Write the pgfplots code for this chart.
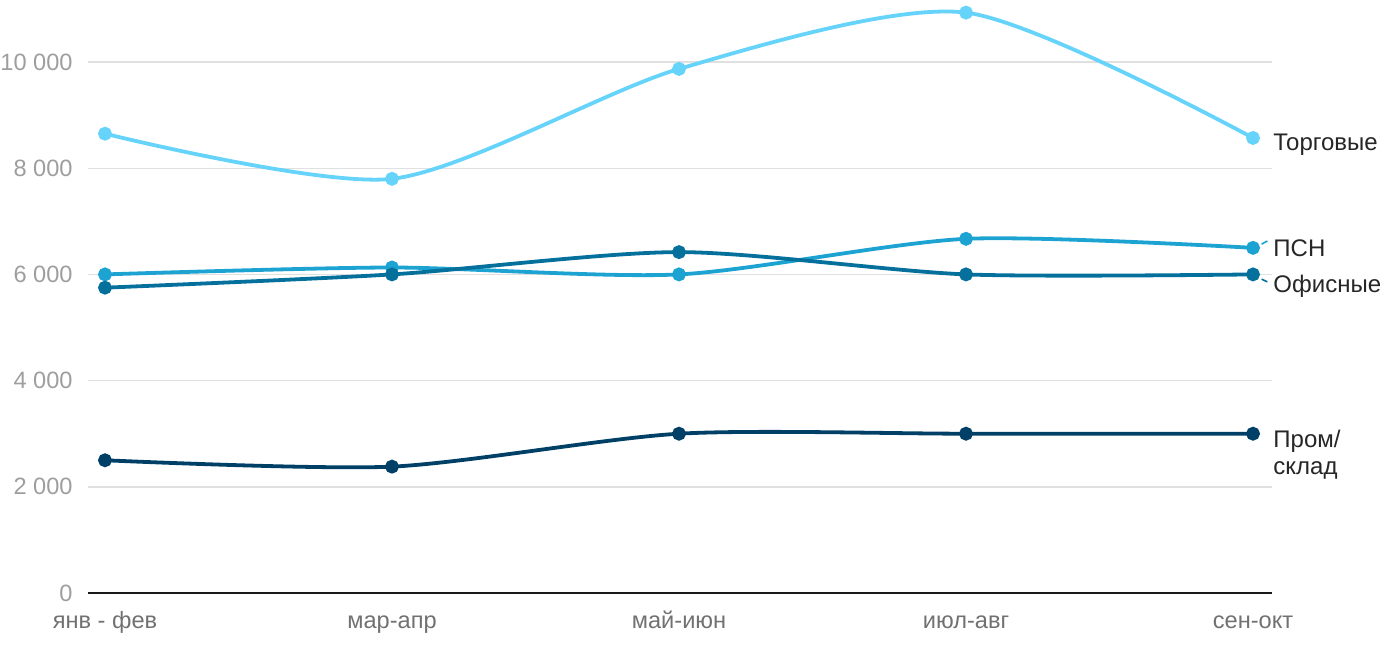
\documentclass[border=0pt]{standalone}
\usepackage{fontspec}
\setmainfont{Liberation Sans}
\usepackage{pgfplots}
\pgfplotsset{compat=1.18}
\definecolor{ctorg}{HTML}{66D3FA}
\definecolor{cpsn}{HTML}{1CA3D1}
\definecolor{coff}{HTML}{05709C}
\definecolor{cprom}{HTML}{003F66}
\definecolor{ygray}{HTML}{9E9E9E}
\definecolor{xgray}{HTML}{717171}
\definecolor{gridc}{HTML}{E0E0E0}
\begin{document}
\begin{tikzpicture}
\useasboundingbox (0,0) rectangle (700pt,325pt);
\begin{axis}[
  at={(44pt,28.5pt)}, anchor=south west,
  scale only axis, width=592pt, height=292.05pt,
  xmin=-0.0592, xmax=4.0662, ymin=0, ymax=11000,
  clip=false,
  axis line style={draw=none},
  major tick length=0pt,
  xtick={0,1,2,3,4},
  xticklabels={янв - фев,мар-апр,май-июн,июл-авг,сен-окт},
  ytick={0,2000,4000,6000,8000,10000},
  yticklabels={0,2 000,4 000,6 000,8 000,10 000},
  ymajorgrids, grid style={gridc, line width=0.7pt},
  extra y ticks={0}, extra y tick labels={},
  extra y tick style={grid style={black!90, line width=1.1pt}},
  yticklabel style={font=\fontsize{11.8}{14}\selectfont, text=ygray, inner sep=0pt, xshift=-7.5pt},
  xticklabel style={font=\fontsize{11.8}{14}\selectfont, text=xgray, inner sep=0pt, anchor=base, yshift=-17.5pt},
  every axis plot/.append style={smooth, tension=0.45, line width=1.9pt, mark=*, mark size=2.5pt},
]
\addplot[color=ctorg, mark options={fill=ctorg, draw=ctorg}] coordinates {(0,8650) (1,7800) (2,9870) (3,10930) (4,8570)};
\addplot[color=cpsn, mark options={fill=cpsn, draw=cpsn}] coordinates {(0,6000) (1,6130) (2,6000) (3,6670) (4,6500)};
\addplot[color=coff, mark options={fill=coff, draw=coff}] coordinates {(0,5750) (1,6000) (2,6420) (3,6000) (4,6000)};
\addplot[color=cprom, mark options={fill=cprom, draw=cprom}] coordinates {(0,2500) (1,2380) (2,3000) (3,3000) (4,3000)};

\draw[cpsn, line width=0.8pt] (axis cs:4.03,6570) -- (axis cs:4.05,6630);
\draw[coff, line width=0.8pt] (axis cs:4.03,5910) -- (axis cs:4.05,5860);
\node[anchor=west, inner sep=0pt, font=\fontsize{12}{14}\selectfont, text=black!85] at (axis cs:4,8570) [xshift=10pt, yshift=-3.5pt] {Торговые};
\node[anchor=west, inner sep=0pt, font=\fontsize{12}{14}\selectfont, text=black!85] at (axis cs:4,6500) [xshift=10pt, yshift=0pt] {ПСН};
\node[anchor=west, inner sep=0pt, font=\fontsize{12}{14}\selectfont, text=black!85] at (axis cs:4,6000) [xshift=10pt, yshift=-6pt] {Офисные};
\node[anchor=north west, inner sep=0pt, align=left, font=\fontsize{12}{13.5}\selectfont, text=black!85] at (axis cs:4,3000) [xshift=10pt, yshift=2pt] {Пром/\\склад};
\end{axis}
\end{tikzpicture}
\end{document}
